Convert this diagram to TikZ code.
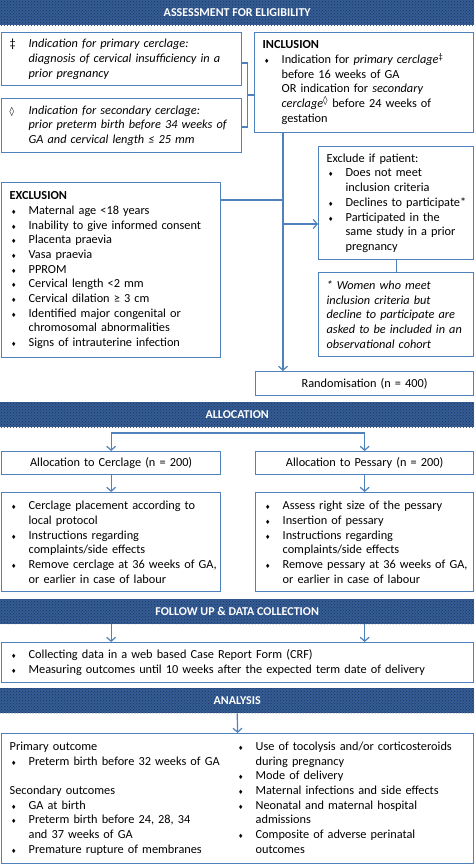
\documentclass[tikz,border=0pt]{standalone}
\usepackage{fontspec}
\setmainfont{Carlito}
\newfontfamily\symfont{DejaVu Sans}
\usetikzlibrary{arrows.meta,patterns,positioning}
\definecolor{boxblue}{RGB}{79,129,189}
\definecolor{bannerblue}{RGB}{52,92,150}
\definecolor{bannerdot}{RGB}{30,52,86}
% list helpers: bullet line, continued line, line with own mark
\newcommand{\dmd}{{\symfont\fontsize{6}{6}\selectfont ♦}}
\newcommand{\loz}{{\symfont\fontsize{9}{9}\selectfont\bfseries ◊}}
\newcommand{\bi}[1]{\mbox{\makebox[19pt][l]{\hspace{1.5pt}\dmd}#1}}
\newcommand{\ci}[1]{\mbox{\hspace*{19pt}#1}}
\newcommand{\mi}[2]{\mbox{\makebox[19pt][l]{#1}#2}}
\tikzset{
  banner/.style={anchor=north west, minimum width=474pt, minimum height=25pt, inner sep=0pt,
                 preaction={fill=bannerblue}, pattern=crosshatch dots, pattern color=bannerdot,
                 text=white, font=\fontsize{12}{14}\selectfont\bfseries},
  tbox/.style={anchor=north west, draw=boxblue, line width=1.3pt, fill=white,
               inner xsep=8pt, inner ysep=2pt, align=left,
               font=\fontsize{12.3}{14.7}\selectfont},
  cbox/.style={tbox, align=center},
  ln/.style={boxblue, line width=1.2pt},
  arr/.style={ln, -{Straight Barb[length=4pt,width=9pt]}},
}
\begin{document}
\begin{tikzpicture}[x=1pt, y=-1pt]
  \useasboundingbox (0,0) rectangle (474,864);
  % eligibility
  \node[banner] (ban1) at (0,0) {ASSESSMENT FOR ELIGIBILITY};
  \node[tbox, text width=224pt, minimum height=53pt] (prim) at (1,32)
    {\mi{‡}{\textit{Indication for primary cerclage:}}\\
     \ci{\textit{diagnosis of cervical insufficiency in a}}\\
     \ci{\textit{prior pregnancy}}};
  \node[tbox, text width=224pt, minimum height=54pt] (sec) at (1,98)
    {\mi{\loz}{\textit{Indication for secondary cerclage:}}\\
     \ci{\textit{prior preterm birth before 34 weeks of}}\\
     \ci{\textit{GA and cervical length ≤ 25 mm}}};
  \node[tbox, text width=203pt, minimum height=100pt] (incl) at (254,32)
    {\textbf{INCLUSION}\\
     \bi{Indication for \textit{primary cerclage}\textsuperscript{‡}}\\
     \ci{before 16 weeks of GA}\\
     \ci{OR indication for \textit{secondary}}\\
     \ci{\textit{cerclage}\textsuperscript{\loz} before 24 weeks of}\\
     \ci{gestation}};
  \node[tbox, text width=139pt, minimum height=113pt] (exc) at (318,146)
    {Exclude if patient:\\
     \bi{Does not meet}\\
     \ci{inclusion criteria}\\
     \bi{Declines to participate*}\\
     \bi{Participated in the}\\
     \ci{same study in a prior}\\
     \ci{pregnancy}};
  \node[tbox, text width=203pt, minimum height=175pt] (excl) at (1,182)
    {\textbf{EXCLUSION}\\
     \bi{Maternal age <18 years}\\
     \bi{Inability to give informed consent}\\
     \bi{Placenta praevia}\\
     \bi{Vasa praevia}\\
     \bi{PPROM}\\
     \bi{Cervical length <2 mm}\\
     \bi{Cervical dilation ≥ 3 cm}\\
     \bi{Identified major congenital or}\\
     \ci{chromosomal abnormalities}\\
     \bi{Signs of intrauterine infection}};
  \node[tbox, text width=139pt, minimum height=84pt] (note) at (318,272)
    {\textit{* Women who meet}\\
     \textit{inclusion criteria but}\\
     \textit{decline to participate are}\\
     \textit{asked to be included in an}\\
     \textit{observational cohort}};
  \node[cbox, text width=202pt, minimum height=24pt] (rand) at (255,371) {Randomisation (n = 400)};
  \coordinate (tk) at (283,0);
  \coordinate (brk) at (247.5,95);
  \coordinate (jx) at (283,200);
  \coordinate (je) at (283,224);
  \draw[ln] (prim.east |- 0,63) -| (brk |- 0,127) -- (sec.east |- 0,127);
  \draw[ln] (brk) -- (brk -| incl.west);
  \draw[arr] (incl.south -| tk) -- (rand.north -| tk);
  \draw[ln] (jx -| excl.east) -- (jx);
  \draw[arr] (je) -- (je -| exc.west);
  \draw[ln] (exc.south) -- (note.north);
  % allocation
  \node[banner] (ban2) at (0,402) {ALLOCATION};
  \node[cbox, text width=203pt, minimum height=23pt] (allocC) at (1,451) {Allocation to Cerclage (n = 200)};
  \node[cbox, text width=202pt, minimum height=23pt] (allocP) at (255,451) {Allocation to Pessary (n = 200)};
  \node[tbox, text width=203pt, minimum height=99pt] (detC) at (1,492)
    {\bi{Cerclage placement according to}\\
     \ci{local protocol}\\
     \bi{Instructions regarding}\\
     \ci{complaints/side effects}\\
     \bi{Remove cerclage at 36 weeks of GA,}\\
     \ci{or earlier in case of labour}};
  \node[tbox, text width=202pt, minimum height=99pt] (detP) at (255,492)
    {\bi{Assess right size of the pessary}\\
     \bi{Insertion of pessary}\\
     \bi{Instructions regarding}\\
     \ci{complaints/side effects}\\
     \bi{Remove pessary at 36 weeks of GA,}\\
     \ci{or earlier in case of labour}};
  \coordinate (spl) at (237,433);
  \draw[arr] (spl) -| (allocC.north);
  \draw[arr] (spl) -| (allocP.north);
  \draw[arr] (allocC.south) -- (detC.north);
  \draw[arr] (allocP.south) -- (detP.north);
  % follow up
  \node[banner] (ban3) at (0,599) {FOLLOW UP \& DATA COLLECTION};
  \node[tbox, text width=456pt, minimum height=40pt] (fup) at (1,642)
    {\bi{Collecting data in a web based Case Report Form (CRF)}\\
     \bi{Measuring outcomes until 10 weeks after the expected term date of delivery}};
  \draw[arr] (ban3.south -| detC.north) -- (fup.north -| detC.north);
  \draw[arr] (ban3.south -| detP.north) -- (fup.north -| detP.north);
  % analysis
  \node[banner] (ban4) at (0,688) {ANALYSIS};
  \node[tbox, text width=456pt, minimum height=130pt] (ana) at (1,733)
    {\begin{minipage}[t]{227pt}
       Primary outcome\\
       \bi{Preterm birth before 32 weeks of GA}\\[14.7pt]
       Secondary outcomes\\
       \bi{GA at birth}\\
       \bi{Preterm birth before 24, 28, 34}\\
       \ci{and 37 weeks of GA}\\
       \bi{Premature rupture of membranes}
     \end{minipage}%
     \begin{minipage}[t]{229pt}
       \bi{Use of tocolysis and/or corticosteroids}\\
       \ci{during pregnancy}\\
       \bi{Mode of delivery}\\
       \bi{Maternal infections and side effects}\\
       \bi{Neonatal and maternal hospital}\\
       \ci{admissions}\\
       \bi{Composite of adverse perinatal}\\
       \ci{outcomes}
     \end{minipage}};
  \draw[arr] (ban4.south) -- (ana.north);
\end{tikzpicture}
\end{document}
